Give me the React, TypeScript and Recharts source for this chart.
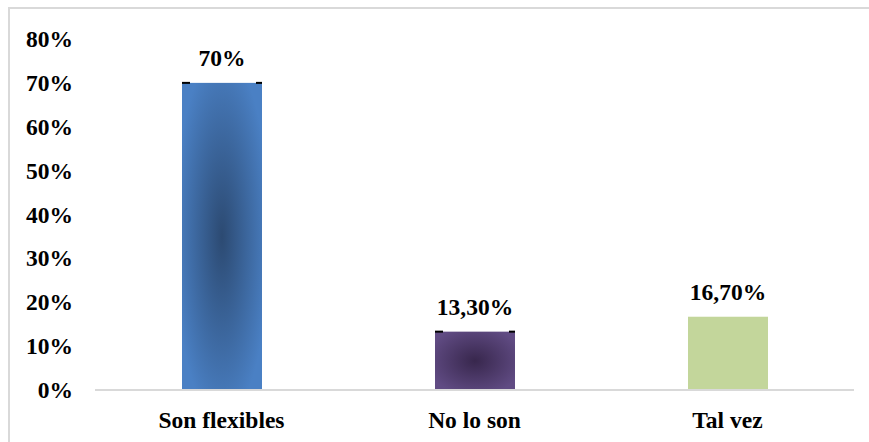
import { BarChart, Bar, XAxis, YAxis, LabelList, Cell } from 'recharts';

const categories = ['Son flexibles', 'No lo son', 'Tal vez'];
const values = [70, 13.3, 16.7];
const valueLabels = ['70%', '13,30%', '16,70%'];
const yTicks = [0, 10, 20, 30, 40, 50, 60, 70, 80];

const fills = ['url(#gradBlue)', 'url(#gradPurple)', '#c3d69b'];
const font = "'Times New Roman', 'Liberation Serif', 'DejaVu Serif', serif";
const textStyle = { fontFamily: font, fontWeight: 700, fontSize: 23.5 };

const data = categories.map((name, i) => ({ name, value: values[i], label: valueLabels[i] }));

function BarShape(props: any) {
  const { x, y, width, height, fill, index } = props;
  return (
    <g>
      <rect x={x} y={y} width={width} height={height} fill={fill} />
      {index < 2 && (
        <>
          <rect x={x} y={y - 1} width={8} height={2} fill="#000" />
          <rect x={x + width - 6} y={y - 1} width={6} height={2} fill="#000" />
        </>
      )}
    </g>
  );
}

function Tick(props: any) {
  const { x, y, payload, textAnchor, dy, formatter } = props;
  return (
    <text x={x} y={y} dy={dy} textAnchor={textAnchor} fill="#000" style={textStyle}>
      {formatter ? formatter(payload.value) : payload.value}
    </text>
  );
}

export default function App() {
  return (
    <div style={{ position: 'absolute', left: 0, top: 0, width: 869, height: 442, overflow: 'hidden', background: '#fff', fontFamily: font }}>
      <div style={{ position: 'absolute', left: 8, top: 7, width: 900, height: 2, background: '#d9d9d9' }} />
      <div style={{ position: 'absolute', left: 8, top: 7, width: 2, height: 500, background: '#d9d9d9' }} />
      <BarChart width={869} height={442} data={data} margin={{ top: 39, right: 15, bottom: 22, left: 0 }} style={{ position: 'absolute', left: 0, top: 0 }}>
        <defs>
          <radialGradient id="gradBlue" cx="0.5" cy="0.5" r="0.6">
            <stop offset="0%" stopColor="#2c4a72" />
            <stop offset="100%" stopColor="#4a80c4" />
          </radialGradient>
          <radialGradient id="gradPurple" cx="0.5" cy="0.5" r="0.6">
            <stop offset="0%" stopColor="#38274d" />
            <stop offset="100%" stopColor="#604b83" />
          </radialGradient>
        </defs>
        <XAxis
          dataKey="name"
          height={30}
          tickLine={false}
          tickSize={6}
          tickMargin={16}
          axisLine={{ stroke: '#d9d9d9', strokeWidth: 2 }}
          tick={<Tick dy={16} />}
        />
        <YAxis
          width={95}
          domain={[0, 80]}
          ticks={yTicks}
          interval={0}
          axisLine={false}
          tickLine={false}
          tickSize={6}
          tickMargin={16}
          tick={<Tick dy={8} formatter={(v: number) => `${v}%`} />}
        />
        <Bar dataKey="value" barSize={80} isAnimationActive={false} shape={<BarShape />}>
          {data.map((d, i) => (
            <Cell key={d.name} fill={fills[i]} />
          ))}
          <LabelList
            dataKey="label"
            position="top"
            content={(p: any) => (
              <text x={p.x + p.width / 2} y={p.y - 17} textAnchor="middle" fill="#000" style={textStyle}>
                {p.value}
              </text>
            )}
          />
        </Bar>
      </BarChart>
    </div>
  );
}
